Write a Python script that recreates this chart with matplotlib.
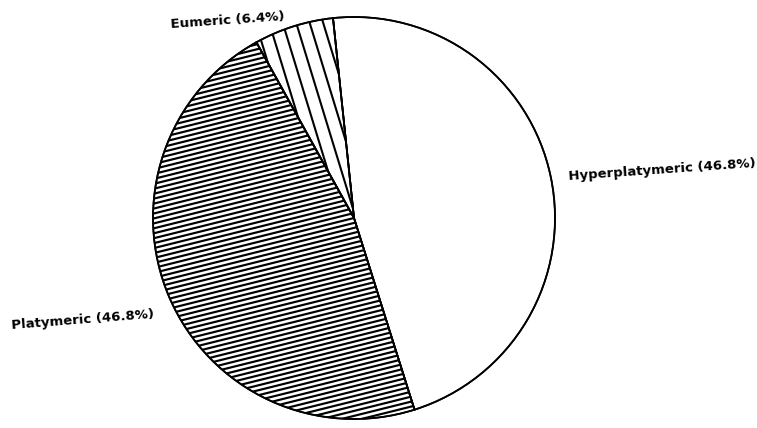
import numpy as np
import matplotlib
matplotlib.use('Agg')
import matplotlib.pyplot as plt
from matplotlib.collections import LineCollection

# data
categories = ['Hyperplatymeric', 'Platymeric', 'Eumeric']
percents = [46.8, 46.8, 6.4]
label_texts = ['Hyperplatymeric (46.8%)', 'Platymeric (46.8%)', 'Eumeric (6.4%)']

# pixel-like layout (y goes up)
W, H = 757, 428
cx, cy, r = 354, 210, 201


def hatch_lines(ax, patch, angle_deg, spacing, through, lw):
    # parallel lines at a given angle, clipped to the wedge
    t = np.array([np.cos(np.radians(angle_deg)), np.sin(np.radians(angle_deg))])
    n = np.array([-t[1], t[0]])
    segs = []
    for d in np.arange(-600, 600, spacing):
        p = np.array(through) + n * d
        segs.append([p - t * 800, p + t * 800])
    lc = LineCollection(segs, colors='black', linewidths=lw, zorder=3)
    ax.add_collection(lc)
    lc.set_clip_path(patch)


fig = plt.figure(figsize=(W / 100, H / 100), dpi=100)
ax = fig.add_axes([0, 0, 1, 1])

wedges, _ = ax.pie(percents, startangle=96, counterclock=False,
                   center=(cx, cy), radius=r, colors=['white'] * 3,
                   wedgeprops=dict(edgecolor='black', linewidth=1.2))
for w in wedges:
    w.set_zorder(2)

# Platymeric: dense, slightly rising lines
hatch_lines(ax, wedges[1], 14, 4.8, (cx, cy), 1.55)
# Eumeric: sparse, steep lines
hatch_lines(ax, wedges[2], 107, 12.9, (293, 393), 1.5)

# outline on top
for w in wedges:
    edge = plt.matplotlib.patches.Wedge((cx, cy), r, w.theta1, w.theta2,
                                        facecolor='none', edgecolor='black',
                                        linewidth=1.3, zorder=4)
    ax.add_patch(edge)

font = dict(family='DejaVu Sans', fontsize=9.5, fontweight='bold',
            ha='center', va='center', color='black')
ax.text(662, H - 170, label_texts[0], rotation=4, **font)
ax.text(83, H - 320, label_texts[1], rotation=4.5, **font)
ax.text(228, H - 21, label_texts[2], rotation=4, **font)

ax.set_xlim(0, W)
ax.set_ylim(0, H)
ax.set_aspect('auto')
ax.axis('off')

plt.savefig('out.png', dpi=100)
plt.close()
